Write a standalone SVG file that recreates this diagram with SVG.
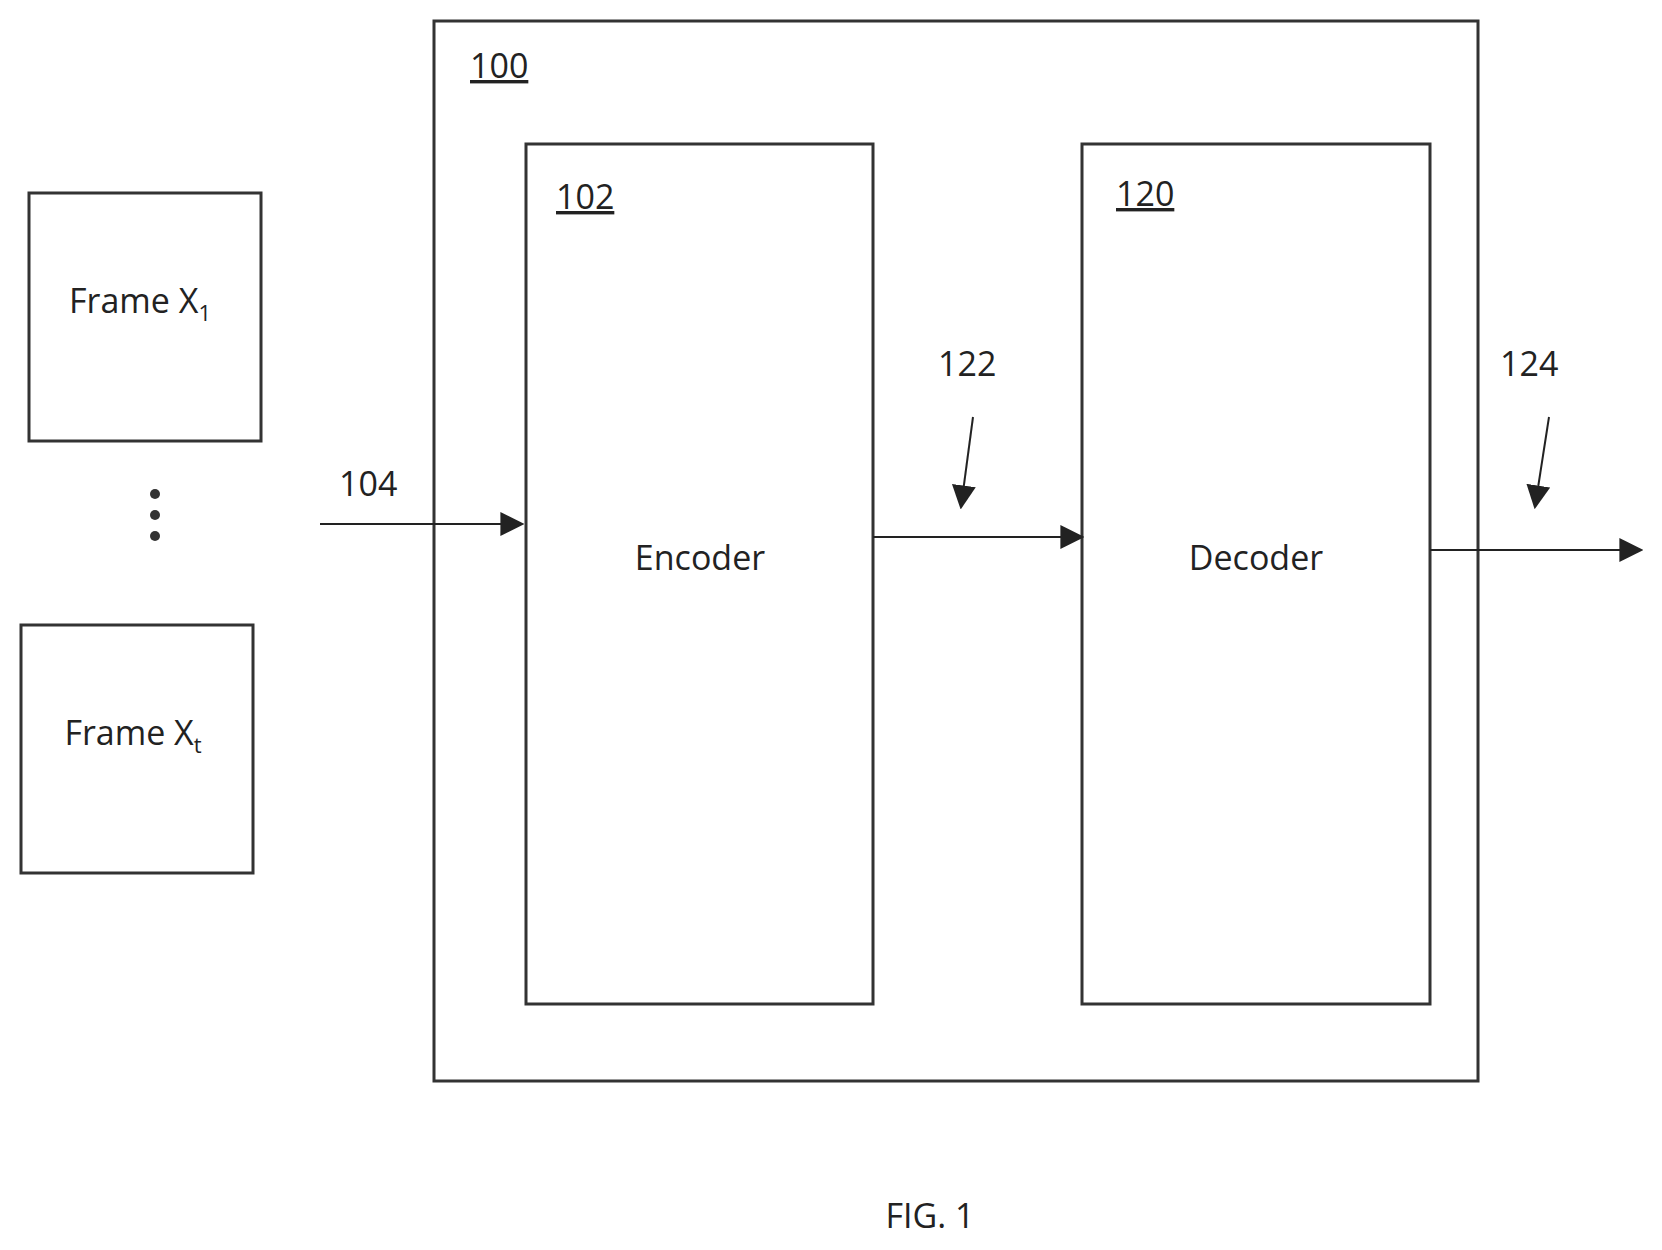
<svg xmlns="http://www.w3.org/2000/svg" width="1662" height="1250" viewBox="0 0 1662 1250">
<style>
rect.b{fill:none;stroke:#333;stroke-width:3}
text{font-family:"Open Sans","Liberation Sans",sans-serif;font-size:34px;fill:#222}
.u{text-decoration:underline}
.c{text-anchor:middle}
line{stroke:#222;stroke-width:2}
</style>
<defs><marker id="a" markerWidth="10" markerHeight="8" refX="9" refY="4" orient="auto" markerUnits="userSpaceOnUse" viewBox="0 0 10 8"><path d="M0,0L10,4L0,8z" fill="#222"/></marker>
<marker id="A" viewBox="0 0 10 10" refX="9" refY="5" markerWidth="24" markerHeight="24" markerUnits="userSpaceOnUse" orient="auto"><path d="M0,0L10,5L0,10z" fill="#222"/></marker></defs>
<rect width="1662" height="1250" fill="#fff"/>
<g id="n100"><rect class="b" x="434" y="21" width="1044" height="1060"/><text class="u" x="470" y="78">100</text></g>
<g id="frame1"><rect class="b" x="29" y="193" width="232" height="248"/><text class="c" x="140" y="313">Frame X<tspan font-size="22" dy="8">1</tspan></text></g>
<g id="dots" fill="#333"><circle cx="155" cy="494" r="5"/><circle cx="155" cy="515" r="5"/><circle cx="155" cy="536" r="5"/></g>
<g id="framet"><rect class="b" x="21" y="625" width="232" height="248"/><text class="c" x="133" y="745">Frame X<tspan font-size="22" dy="8">t</tspan></text></g>
<g id="n102"><rect class="b" x="526" y="144" width="347" height="860"/><text class="u" x="556" y="209">102</text><text class="c" x="700" y="570">Encoder</text></g>
<g id="n120"><rect class="b" x="1082" y="144" width="348" height="860"/><text class="u" x="1116" y="206">120</text><text class="c" x="1256" y="570">Decoder</text></g>
<g id="connectors">
<line x1="320" y1="524" x2="522" y2="524" marker-end="url(#A)"/>
<line x1="873" y1="537" x2="1082" y2="537" marker-end="url(#A)"/>
<line x1="1430" y1="550" x2="1641" y2="550" marker-end="url(#A)"/>
<line x1="973" y1="417" x2="961" y2="507" marker-end="url(#A)"/>
<line x1="1549" y1="417" x2="1535" y2="507" marker-end="url(#A)"/>
</g>
<text x="339" y="496">104</text>
<text x="938" y="376">122</text>
<text x="1500" y="376">124</text>
<text class="c" x="930" y="1228">FIG. 1</text>
</svg>
